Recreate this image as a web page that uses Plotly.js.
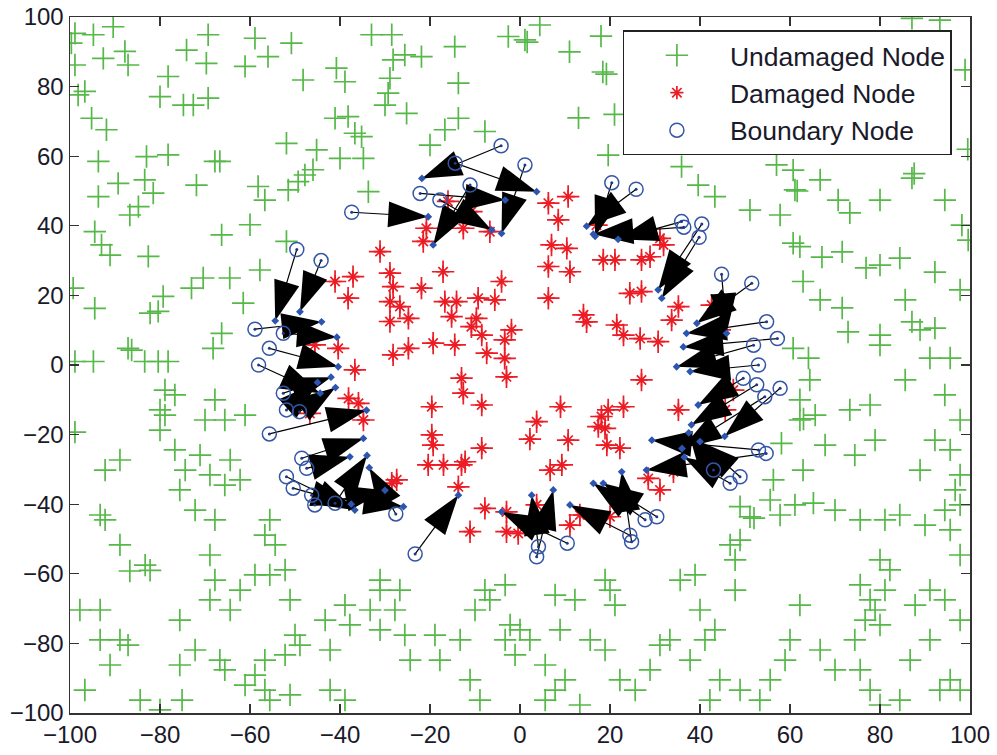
<!DOCTYPE html>
<html>
<head>
<meta charset="utf-8">
<script src="https://cdn.plot.ly/plotly-3.0.1.min.js"></script>
<style>html,body{margin:0;padding:0;background:#fff;}#chart{width:997px;height:755px;}</style>
</head>
<body>
<div id="chart"></div>
<script>
// Undamaged nodes (green +)
const undamagedX = [-98.9,-94.8,-90.4,-99.7,-92.6,-87.8,-87.1,-98.9,-74.1,-69.3,-69.7,-58.9,-61.1,-56.0,-50.8,-48.2,-78.2,-80.0,-74.8,-72.6,-69.3,-96.7,-98.2,-95.2,-91.9,-33.0,-28.5,-25.6,-28.2,-21.9,-14.5,-13.7,-28.9,-29.3,-30.0,-25.2,-40.8,-38.9,-41.1,-38.2,-36.7,-35.2,-16.7,-13.7,-20.0,-7.8,-2.6,1.1,-51.9,-45.2,-46.0,-47.8,-49.3,-51.5,-40.0,-34.8,-33.7,-58.2,-56.7,-60.0,-66.3,-67.8,-66.7,-71.9,-78.2,-83.0,-93.7,-89.3,-83.4,-81.5,-84.8,-86.7,-93.7,-94.5,-93.0,-91.1,-82.6,-99.3,-94.5,-82.2,-80.4,-79.3,-73.0,-70.4,-64.5,-61.5,-57.8,-51.9,-66.3,-68.2,-87.1,-86.3,-83.4,-80.4,-78.2,-98.9,-94.8,
1.6,4.4,11,18,18.4,19.2,21,13,19.6,35.9,39.6,43.3,51.1,57.8,57,60.7,61.1,61.6,60.7,62.2,62.9,60.7,64.1,64.4,62.2,63,58.1,56.3,62.9,48.9,51.1,52,65.2,
66.7,70.7,73.3,80,87.1,87.6,94.4,98.2,99.6,67.1,71.6,76.9,80,84.4,92.2,66.7,71.6,72.9,80,87.1,88.9,92.2,95.6,91.1,80,85.6,97.8,93.3,87.1,98.9,99.5,
62.2,65.6,73.3,77.8,85.6,94.4,97.8,92.2,88.9,95.6,97.8,96.7,97.8,78.9,74.4,67.8,55.6,57.8,61.1,70,75.6,81.1,84.4,90,94.4,46.7,48.9,80,82.2,81.1,77.8,78.9,76.7,80,75.6,74.4,75.6,70,66.7,77.8,80,84.4,93.3,95.6,97.8,91.1,86.7,62.2,60,58.9,55.6,53.3,48.9,43.3,41.1,37.8,33.3,31.1,40,35.6,38.9,47.8,44.4,42.2,28.9,25.6,22.2,18.9,15.6,18.9,20,21.1,12.2,8.9,10,5.6,13.3,2.2,0,-1.1,7.8,47.8,94.4,91.1,87.8,97.8,97.8,95.6,5.6,7.8,
-98.9,-93.3,-88.9,-86.7,-83.3,-78.9,-80,-74.4,-71.1,-72.2,-67.8,-65.6,-68.9,-67.8,-68.9,-62.2,-64.4,-58.9,-55.6,-52.2,-56.7,-55.6,-54.4,-51.1,-50,-48.9,-43.3,-42.2,-38.9,-37.8,-33.3,-31.1,-27.8,-31.1,-26.7,-31.1,-25.6,-24.4,-18.9,-17.8,-13.3,-10,-7.8,-3.3,-2.2,-3.3,-6.7,-96.7,-84.4,-80,-75.1,-61.1,-56.7,-55.6,-51.1,-66.7,-65.6,-58.9,-56.7,-52.2,-42.2,-38.9,-93.3,-88.9,-87.1,-91.1,-75.6,-75.6,-72.2,-82.2,-93.3,-97.8,-92.2,-78.9,-76.7,-80,-76.7,-70,-67.8,-64.4,-62.2,-68.9,-75.6,-88.9,-92.2,-61.1,-65.6,-8.9,-11.1];
const undamagedY = [95.3,94.9,97.2,92.5,88.1,90.1,86.2,86.2,90.5,94.9,86.7,93.9,85.8,88.6,92.5,81.9,82.9,77.1,74.7,74.7,76.7,78.6,77.6,70.9,67.6,94.9,94.9,89.1,87.7,88.6,91.5,81.0,82.4,78.1,74.7,72.3,85.3,81.4,70.9,71.4,66.6,65.6,67.6,70.9,63.2,67.1,94.4,93.4,63.7,61.8,56.1,54.6,52.7,50.3,59.4,59.4,49.8,51.3,47.4,40.3,37.4,58.5,58.5,51.7,60.4,59.9,58.5,52.2,53.2,49.4,45.5,43.1,48.4,38.3,34.5,31.6,31.2,22.1,16.3,14.9,15.4,19.7,22.1,25.0,25.0,17.8,27.3,35.5,9.1,4.8,4.8,4.3,1.0,1.0,1.0,1.0,1.0,
92.8,97.7,90,94.5,84.2,83.6,72,71,60.3,57.0,51.7,48.4,44.5,43.1,57.5,56.0,50.3,50,35.0,34.0,24.0,4.8,2.0,-4.3,-15.8,-15.5,-22.5,-33.0,-30.2,-40.7,-43.6,-44,-39.7,
53.2,47.4,43.7,47.4,53.7,55,47.4,40.2,35.9,31.0,32.5,27.9,28.7,30.7,26.7,18.7,16.4,9.5,8.6,12.4,10.1,10.6,2.0,2.0,5.7,18.7,21.6,99.1,99.6,84.8,62,
-10,-14.4,-12.9,-11.5,-4.3,-8.6,-15.8,-21.6,-30.2,-24.4,-31.6,-35.9,-40.2,-21.6,-25.9,-23,-38.8,-43.1,-40.2,-41.7,-44.5,-44.5,-43.1,-46,-41.7,-51.7,-50.3,-56,-58.9,-64.7,-67.5,-70.4,-73.3,-74.7,-63.2,-79,-87.6,-87.6,-81.9,-93.4,-97.7,-96.3,-93.4,-90.5,-93.4,-79,-84.8,-69,-79,-84.8,-90.5,-96.3,-93.4,-76.1,-79,-84.8,-79,-80.5,-70.4,-61.8,-60.3,-64.7,-90.5,-96.3,-87.6,-93.4,-90.5,-81.9,-79,-61.8,-64.7,-69,-67.5,-76.1,-90.5,-96.3,-97.7,-79,-76.1,-83.3,-66.1,-56,-67.5,-64.7,-69,-73.3,-54.6,-47.4,-86.2,-93.4,
-19.3,-43.1,-51.7,-59.2,-57.5,-7.2,-12.9,-30.2,-25.9,-41.7,-44.5,-34.5,-54.6,-61.8,-67.5,-64.7,-70.4,-60.3,-60.3,-58.9,-48.9,-44.5,-51.7,-67.5,-77.6,-80.5,-73.3,-81.9,-69,-74.7,-70.4,-76.1,-70.4,-64.7,-64.7,-61.8,-77.6,-84.8,-77.6,-84.8,-79,-70.4,-64.7,-63.2,-74.7,-79,-67.5,-93.4,-96.3,-99.1,-96.3,-92,-93.4,-96.3,-94.8,-84.8,-87.6,-89.1,-84.8,-83.3,-93.4,-96.3,-79,-79,-80.5,-86.2,-73.3,-86.2,-81.9,-59,-70.4,-70.4,-44.5,-14.4,-8.6,-18.7,-24.4,-15.8,-10,-27.3,-33,-31.6,-35.9,-27.3,-30.2,-14.4,-15.8,-96.3,-90.5];

// Damaged nodes (red *)
const damagedX = [-20.8,-21.5,-12.6,-6.7,-16.0,-10.8,-31.1,-41.1,-37.1,-38.2,-28.9,-28.2,-21.9,-17.1,-28.9,-26.7,-24.8,-28.9,-16.7,-14.1,-15.2,-9.3,-5.6,-4.1,-1.9,-3.4,-10.8,-8.5,-9.7,-19.3,-14.5,-7.4,-3.4,-24.8,-28.2,-40.4,-45.6,
6.3,8.5,7.0,6.3,6.3,-3.0,-13.0,-12.6,-8.5,-19.6,-19.6,-19.3,-8.5,2.2,3.7,9.0,-36.7,-38.1,-35.9,-46.7,-34.8,
-28.5,-27.4,-20.4,-17.0,-13.0,-12.2,-13.7,-11.1,-7.8,-3.0,-3.0,-0.4,10.7,6.7,9.3,19.6,23.0,18.1,18.9,19.3,22.2,28.5,31.1,35.2,11.1,13.3,3.7,20.0,34.1,
10.7,10.4,11.1,17.0,18.5,21.1,27.0,28.9,31.1,31.9,24.4,27.0,35.2,33.7,14.1,14.8,21.5,23.0,26.7,30.7,27.0,17.4,45.6,47.4,44.4,42.6];
const damagedY = [39.3,35.5,39.3,38.3,47.0,44.1,32.6,24.0,25.4,19.2,26.4,22.5,22.1,26.8,18.2,16.8,13.4,12.5,18.2,18.2,13.9,19.2,18.7,24.0,10.1,7.2,11.0,8.6,13.4,6.3,5.8,3.4,1.9,4.8,2.9,4.8,5.8,
46.5,41.7,34.5,28.3,19.2,-3.4,-3.8,-8.1,-11.5,-12.0,-20.1,-23.0,-23.9,-21.3,-16.3,-12.0,-1.4,-9.6,-11.0,-13.9,-15.8,
-34.0,-33.0,-28.7,-28.7,-28.7,-27.8,-35.0,-47.9,-41.2,-42.2,-47.9,-48.4,-21.6,-30.2,-28.7,-12.9,-12.0,-14.8,-18.2,-23.0,-23.9,-32.6,-35.9,-12.9,-46.0,-43.1,-40.2,-43.6,-30.7,
48.4,33.5,26.8,40.2,30.2,30.2,30.2,31.1,36.4,34.5,20.6,21.1,16.8,12.9,14.4,12.4,11.5,8.6,7.6,6.7,-4.3,-17.7,-12.9,-7.2,10.1,17.2];

// Boundary nodes (blue o) and the positions they move to (arrow tips)
const boundaryX = [-4.2,-14.4,1.1,-22.2,-11.1,-17.8,-37.4,20.4,25.8,35.9,36.4,40.4,39.8,44.8,51.5,54.8,57.2,51.9,53.0,49.6,52.6,57.8,54.4,53.0,54.7,43.0,48.9,46.7,-49.6,-44.2,-58.9,-52.6,-55.7,-58.1,-52.6,-51.9,-49.0,-55.7,-48.5,-47.4,-51.9,-50.4,-46.3,-45.6,-41.1,-27.6,-23.3,4.1,3.7,10.5,24.4,24.8,27.8,30.4];
const boundaryY = [63.0,58.0,57.5,49.3,51.7,47.4,43.9,52.4,50.5,41.2,39.6,40.5,36.7,26.1,23.5,12.4,7.6,5.7,0.0,-3.8,-5.7,-6.7,-9.1,-24.4,-25.4,-30.2,-32.1,-34.0,33.2,30.0,10.3,9.1,4.8,0.0,-8.1,-12.9,-13.4,-19.8,-26.8,-29.7,-32.1,-35.4,-37.4,-40.2,-39.7,-42.8,-54.3,-52.2,-55.1,-51.2,-48.9,-50.8,-44.5,-43.6];
const targetX = [-21.8,3.7,-4.1,-3.3,-19.3,-6.3,-20.4,16.7,14.8,21.8,16.3,30.7,31.5,45.9,39.3,37.0,36.3,34.8,37.8,39.6,38.1,45.5,36.0,29.3,28.1,37.5,40.0,36.5,-54.4,-48.9,-44.1,-40.7,-40.4,-44.4,-42.0,-45.0,-41.0,-34.1,-34.8,-37.8,-36.7,-37.5,-25.9,-30.0,-34.0,-33.5,-13.7,2.6,7.4,-4.1,11.1,22.6,16.3,18.5];
const targetY = [53.6,49.8,37.8,47.4,34.5,38.8,42.6,37.0,39.9,36.1,37.6,21.6,19.2,9.1,12.0,9.1,5.2,-0.5,-1.9,-11.5,-17.2,-20.5,-24.0,-21.6,-30.2,-19.5,-22.0,-26.5,12.7,15.3,12.4,8.0,-0.5,-8.1,-3.5,-5.0,-6.5,-13.0,-21.1,-26.4,-41.7,-40.0,-40.7,-36.0,-26.0,-29.5,-37.4,-37.4,-35.9,-42.2,-40.2,-30.7,-34.0,-34.0];

const GREEN = '#55b848', RED = '#ec1c24', BLUE = '#3456a6';
const traces = [];

traces.push({x: undamagedX, y: undamagedY, type: 'scatter', mode: 'markers', name: 'Undamaged Node',
  legendgroup: 'g', legendrank: 1,
  marker: {symbol: 'cross-thin-open', size: 16, color: GREEN, line: {width: 1.7, color: GREEN}}, hoverinfo: 'x+y'});

traces.push({x: damagedX, y: damagedY, type: 'scatter', mode: 'markers', name: 'Damaged Node',
  legendgroup: 'r', legendrank: 2,
  marker: {symbol: 'asterisk-open', size: 11, color: RED, line: {width: 1.7, color: RED}}, hoverinfo: 'x+y'});
traces.push({x: damagedX, y: damagedY, type: 'scatter', mode: 'markers', showlegend: false,
  marker: {symbol: 'cross-thin-open', size: 16, color: RED, line: {width: 1.7, color: RED}}, hoverinfo: 'skip'});

for (let i = 0; i < boundaryX.length; i++) {
  traces.push({x: [boundaryX[i], targetX[i]], y: [boundaryY[i], targetY[i]], type: 'scatter', mode: 'lines+markers',
    showlegend: false, hoverinfo: 'skip', line: {color: '#000', width: 1.2},
    marker: {symbol: 'arrow', size: [0, 42], opacity: 1, angleref: 'previous', color: '#000', line: {width: 0}}});
}

traces.push({x: boundaryX, y: boundaryY, type: 'scatter', mode: 'markers', name: 'Boundary Node',
  legendgroup: 'b', legendrank: 3,
  marker: {symbol: 'circle-open', size: 14, color: BLUE, line: {width: 1.5, color: BLUE}}, hoverinfo: 'x+y'});
traces.push({x: boundaryX, y: boundaryY, type: 'scatter', mode: 'markers', showlegend: false,
  marker: {symbol: 'circle', size: 3, color: '#1d3a85'}, hoverinfo: 'skip'});
traces.push({x: targetX, y: targetY, type: 'scatter', mode: 'markers', showlegend: false,
  marker: {symbol: 'diamond', size: 6, color: '#2c55b0'}, hoverinfo: 'skip'});

const axisCommon = {
  range: [-100, 100], tick0: -100, dtick: 20, ticks: 'inside', ticklen: 9, tickwidth: 1.3, tickcolor: '#333',
  showline: true, linewidth: 1.5, linecolor: '#333', mirror: 'ticks', showgrid: false, zeroline: false,
  tickfont: {family: 'Liberation Sans, Arial, sans-serif', size: 24, color: '#1a1a2a'}
};

const layout = {
  width: 997, height: 755,
  margin: {l: 70, r: 27, t: 17, b: 42},
  paper_bgcolor: '#fff', plot_bgcolor: '#fff',
  xaxis: Object.assign({}, axisCommon),
  yaxis: Object.assign({}, axisCommon),
  showlegend: true,
  legend: {x: 0.614, y: 0.981, xanchor: 'left', yanchor: 'top', bgcolor: '#fff', bordercolor: '#222', borderwidth: 1.3,
    font: {family: 'Liberation Sans, Arial, sans-serif', size: 26.5, color: '#1a1a2a'},
    itemwidth: 96, tracegroupgap: 11, traceorder: 'normal'}
};

Plotly.newPlot('chart', traces, layout, {displayModeBar: false, staticPlot: true});
</script>
</body>
</html>
